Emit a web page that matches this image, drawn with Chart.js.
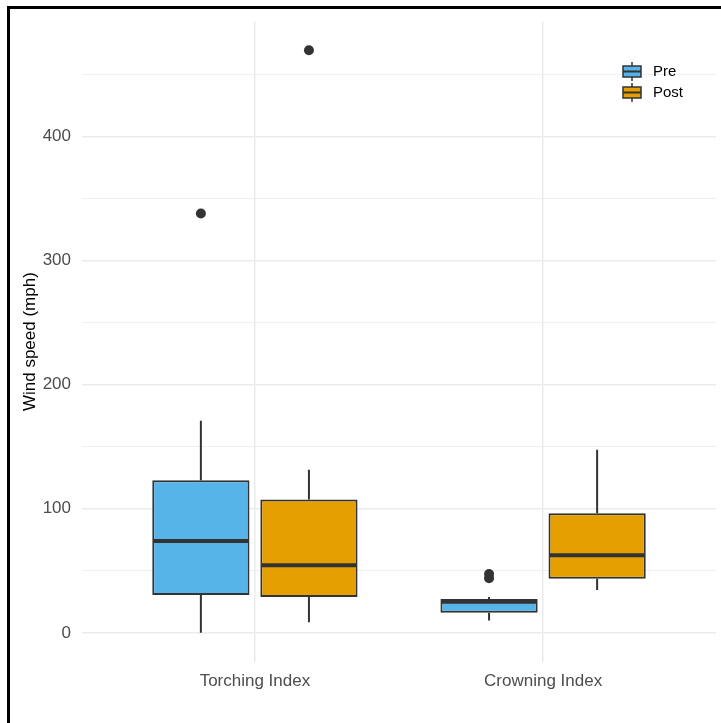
<!DOCTYPE html>
<html>
<head>
<meta charset="utf-8">
<script src="https://cdn.jsdelivr.net/npm/chart.js@4"></script>
<style>
  body { margin: 0; background: #fff; }
  canvas { display: block; }
</style>
</head>
<body>
<canvas id="myChart" width="721" height="723"></canvas>
<script>
// box plot summaries, one entry per category
let categories = ['Torching Index', 'Crowning Index'];
let seriesNames = ['Pre', 'Post'];
let colorHex = ['#56B4E9', '#E69F00'];

let preLow = [0, 10];
let preQ1 = [30.5, 16.3];
let preMedian = [74, 25];
let preQ3 = [123, 27.3];
let preHigh = [171, 29];
let preOutliers = [[338], [44, 47.5]];

let postLow = [8.6, 34.5];
let postQ1 = [29, 43.6];
let postMedian = [54.6, 62.6];
let postQ3 = [107.5, 96.5];
let postHigh = [131.5, 147.5];
let postOutliers = [[469.5], []];

let yTicks = [0, 50, 100, 150, 200, 250, 300, 350, 400, 450];

let summaries = [
  { low: preLow, q1: preQ1, median: preMedian, q3: preQ3, high: preHigh, outliers: preOutliers },
  { low: postLow, q1: postQ1, median: postMedian, q3: postQ3, high: postHigh, outliers: postOutliers }
];

// ggplot style 5% expansion of the data range
let allValues = preLow.concat(postLow, preHigh, postHigh, preOutliers.flat(), postOutliers.flat());
let yLo = Math.min(...allValues);
let yHi = Math.max(...allValues);
let yPad = (yHi - yLo) * 0.05;

const ink = '#333333';

// whiskers, medians and outliers drawn around the floating bars
const boxParts = {
  id: 'boxParts',
  beforeDatasetsDraw(chart) {
    const y = chart.scales.y;
    const c = chart.ctx;
    c.save();
    c.strokeStyle = ink;
    c.lineWidth = 2;
    summaries.forEach((s, d) => {
      chart.getDatasetMeta(d).data.forEach((el, i) => {
        c.beginPath();
        c.moveTo(el.x, y.getPixelForValue(s.low[i]));
        c.lineTo(el.x, y.getPixelForValue(s.q1[i]));
        c.moveTo(el.x, y.getPixelForValue(s.q3[i]));
        c.lineTo(el.x, y.getPixelForValue(s.high[i]));
        c.stroke();
      });
    });
    c.restore();
  },
  afterDatasetsDraw(chart) {
    const y = chart.scales.y;
    const c = chart.ctx;
    c.save();
    c.strokeStyle = ink;
    c.fillStyle = ink;
    summaries.forEach((s, d) => {
      chart.getDatasetMeta(d).data.forEach((el, i) => {
        let my = y.getPixelForValue(s.median[i]);
        c.lineWidth = 4;
        c.beginPath();
        c.moveTo(el.x - el.width / 2 + 1, my);
        c.lineTo(el.x + el.width / 2 - 1, my);
        c.stroke();
        s.outliers[i].forEach(v => {
          c.beginPath();
          c.arc(el.x, y.getPixelForValue(v), 5, 0, Math.PI * 2);
          c.fill();
        });
      });
    });
    c.restore();
  },
  afterDraw(chart) {
    const c = chart.ctx;
    c.save();
    // frame of the original picture
    c.fillStyle = '#000';
    c.fillRect(7, 6, 3, 717);
    c.fillRect(7, 6, 714, 3);
    // legend with box plot keys
    c.font = '15px "Liberation Sans", Arial, sans-serif';
    c.textBaseline = 'middle';
    chart.data.datasets.forEach((ds, d) => {
      let cy = 71.5 + d * 21;
      let cx = 632;
      c.strokeStyle = ink;
      c.lineWidth = 1.5;
      c.beginPath();
      c.moveTo(cx, cy - 9.5);
      c.lineTo(cx, cy + 9.5);
      c.stroke();
      c.fillStyle = ds.backgroundColor;
      c.fillRect(cx - 9, cy - 5.5, 18, 11);
      c.strokeRect(cx - 9, cy - 5.5, 18, 11);
      c.lineWidth = 2;
      c.beginPath();
      c.moveTo(cx - 9, cy);
      c.lineTo(cx + 9, cy);
      c.stroke();
      c.fillStyle = '#000';
      c.fillText(ds.label, 653, cy);
    });
    c.restore();
  }
};

let ctx = document.getElementById('myChart').getContext('2d');

let myChart = new Chart(ctx, {
  type: 'bar',
  data: {
    datasets: summaries.map((s, d) => ({
      label: seriesNames[d],
      data: categories.map((cat, i) => ({ x: i + 1, y: [s.q1[i], s.q3[i]] })),
      backgroundColor: colorHex[d],
      borderColor: ink,
      borderWidth: 2,
      borderSkipped: false,
      categoryPercentage: 0.75,
      barPercentage: 0.9
    }))
  },
  options: {
    responsive: false,
    animation: false,
    layout: { padding: { top: 19, right: 5, left: 0, bottom: 0 } },
    plugins: {
      legend: { display: false },
      tooltip: { enabled: false }
    },
    scales: {
      x: {
        type: 'linear',
        min: 0.4,
        max: 2.6,
        offset: false,
        afterBuildTicks: (axis) => { axis.ticks = categories.map((c, i) => ({ value: i + 1 })); },
        afterFit: (axis) => { axis.height = 61; },
        border: { display: false },
        grid: { color: '#ebebeb', lineWidth: 1.5, drawTicks: false, offset: false },
        ticks: {
          padding: 9,
          color: '#4d4d4d',
          font: { size: 17, family: '"Liberation Sans", Arial, sans-serif' },
          callback: (v) => categories[v - 1]
        }
      },
      y: {
        min: yLo - yPad,
        max: yHi + yPad,
        afterBuildTicks: (axis) => { axis.ticks = yTicks.map(v => ({ value: v })); },
        afterFit: (axis) => { axis.width = 82; },
        border: { display: false },
        grid: {
          color: '#ebebeb',
          lineWidth: (c) => (c.tick && c.tick.value % 100 === 0 ? 1.5 : 0.8),
          drawTicks: false
        },
        ticks: {
          padding: 11,
          color: '#4d4d4d',
          font: { size: 17, family: '"Liberation Sans", Arial, sans-serif' },
          callback: (v) => (v % 100 === 0 ? v : '')
        },
        title: {
          display: true,
          text: 'Wind speed (mph)',
          color: '#000',
          padding: { top: 20, bottom: 0 },
          font: { size: 17, family: '"Liberation Sans", Arial, sans-serif' }
        }
      }
    }
  },
  plugins: [boxParts]
});
</script>
</body>
</html>
